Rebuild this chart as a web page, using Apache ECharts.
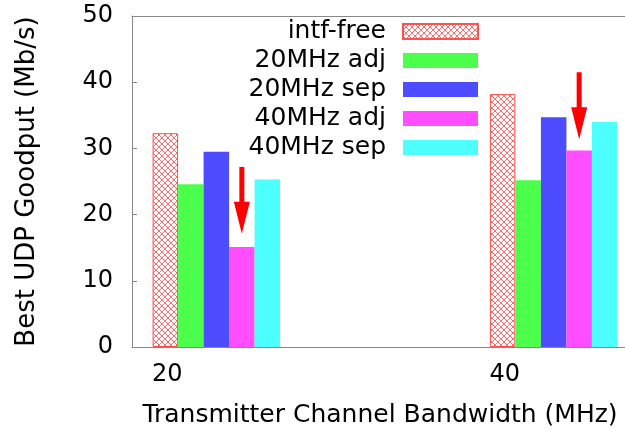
<!DOCTYPE html>
<html><head><meta charset="utf-8">
<script src="https://cdn.jsdelivr.net/npm/echarts@6/dist/echarts.min.js"></script>
<style>html,body{margin:0;padding:0;background:#fff}#c{width:625px;height:436px}</style>
</head><body><div id="c"></div><script>
// ---- data ----
const categories = [20, 40];
const seriesNames = ['intf-free', '20MHz adj', '20MHz sep', '40MHz adj', '40MHz sep'];
const intfFree = [32.3, 38.2];
const adj20 = [24.6, 25.2];
const sep20 = [29.5, 34.7];
const adj40 = [15.1, 29.7];
const sep40 = [25.3, 34.0];
const yTicks = [0, 10, 20, 30, 40, 50];
const arrowStart = [27.2, 41.5];
const arrowEnd = [17.1, 31.4];

// ---- styles ----
const FONT = 'DejaVu Sans';
const BAR_W = 25.5;
const AXIS_C = '#888';

function hatch() {
  const s = 6;
  const c = document.createElement('canvas');
  c.width = s; c.height = s;
  const g = c.getContext('2d');
  g.fillStyle = '#fff'; g.fillRect(0, 0, s, s);
  g.strokeStyle = '#ff6a6a'; g.lineWidth = 1;
  g.beginPath();
  g.moveTo(-1, -1); g.lineTo(s + 1, s + 1);
  g.moveTo(s + 1, -1); g.lineTo(-1, s + 1);
  g.stroke();
  return c;
}

const valueSets = [intfFree, adj20, sep20, adj40, sep40];
const colors = [{ image: hatch(), repeat: 'repeat' }, '#4dff4d', '#4d4dff', '#ff4dff', '#4dffff'];

const barSeries = seriesNames.map((name, k) => ({
  name: name,
  type: 'bar',
  barWidth: BAR_W,
  barGap: '0%',
  data: categories.map((c, i) => [c, valueSets[k][i]]),
  itemStyle: k === 0 ? { color: colors[0], borderColor: '#ff5050', borderWidth: 1 } : { color: colors[k] },
  silent: true
}));

const arrowSeries = {
  type: 'custom',
  silent: true,
  z: 10,
  data: categories.map((c, i) => [c, arrowStart[i], arrowEnd[i]]),
  encode: { x: 0, y: [1, 2] },
  renderItem: function (params, api) {
    const a = api.coord([api.value(0), api.value(1)]);
    const b = api.coord([api.value(0), api.value(2)]);
    const x = a[0] + BAR_W; // centre of the "40MHz adj" bar
    const head = 32;
    return {
      type: 'group',
      children: [
        { type: 'line', shape: { x1: x, y1: a[1], x2: x, y2: b[1] - head + 2 }, style: { stroke: '#ff0000', lineWidth: 5 } },
        { type: 'polygon', shape: { points: [[x - 8, b[1] - head], [x + 8, b[1] - head], [x, b[1]]] }, style: { fill: '#ff0000' } }
      ]
    };
  }
};

const chart = echarts.init(document.getElementById('c'), null, { renderer: 'canvas' });
chart.setOption({
  animation: false,
  backgroundColor: '#fff',
  grid: { left: 132, right: -13, top: 16, bottom: 89, show: false, outerBoundsMode: 'none', containLabel: false },
  legend: {
    data: seriesNames,
    orient: 'vertical',
    right: 141, top: 14,
    align: 'right',
    icon: 'rect',
    itemWidth: 75, itemHeight: 15, itemGap: 4,
    selectedMode: false,
    textStyle: { fontFamily: FONT, fontSize: 25, color: '#000', lineHeight: 25, padding: [0, 12, 0, 0] }
  },
  xAxis: [{
    type: 'value', min: 15, max: 45, interval: 5,
    axisLine: { show: true, lineStyle: { color: AXIS_C } },
    axisTick: { show: false },
    splitLine: { show: false },
    axisLabel: {
      formatter: v => categories.includes(v) ? String(v) : '',
      fontFamily: FONT, fontSize: 24, color: '#000', margin: 16, padding: [0, 98, 0, 0]
    },
    name: 'Transmitter Channel Bandwidth (MHz)',
    nameLocation: 'middle', nameGap: 56,
    nameTextStyle: { fontFamily: FONT, fontSize: 25, color: '#000', padding: [0, 10, 0, 0] }
  }, {
    type: 'value', position: 'top', min: 15, max: 45, interval: 5,
    axisLine: { show: true, lineStyle: { color: AXIS_C } },
    axisTick: { show: false }, axisLabel: { show: false }, splitLine: { show: false }
  }],
  yAxis: {
    type: 'value', min: 0, max: 50, interval: 10,
    axisLine: { show: true, lineStyle: { color: AXIS_C } },
    axisTick: { show: true, inside: true, length: 5, lineStyle: { color: AXIS_C } },
    splitLine: { show: false },
    axisLabel: {
      formatter: v => yTicks.includes(v) ? String(v) : '',
      fontFamily: FONT, fontSize: 24, color: '#000', margin: 19
    },
    name: 'Best UDP Goodput (Mb/s)',
    nameLocation: 'middle', nameGap: 92,
    nameTextStyle: { fontFamily: FONT, fontSize: 26, color: '#000' }
  },
  series: barSeries.concat([arrowSeries])
});
</script></body></html>
